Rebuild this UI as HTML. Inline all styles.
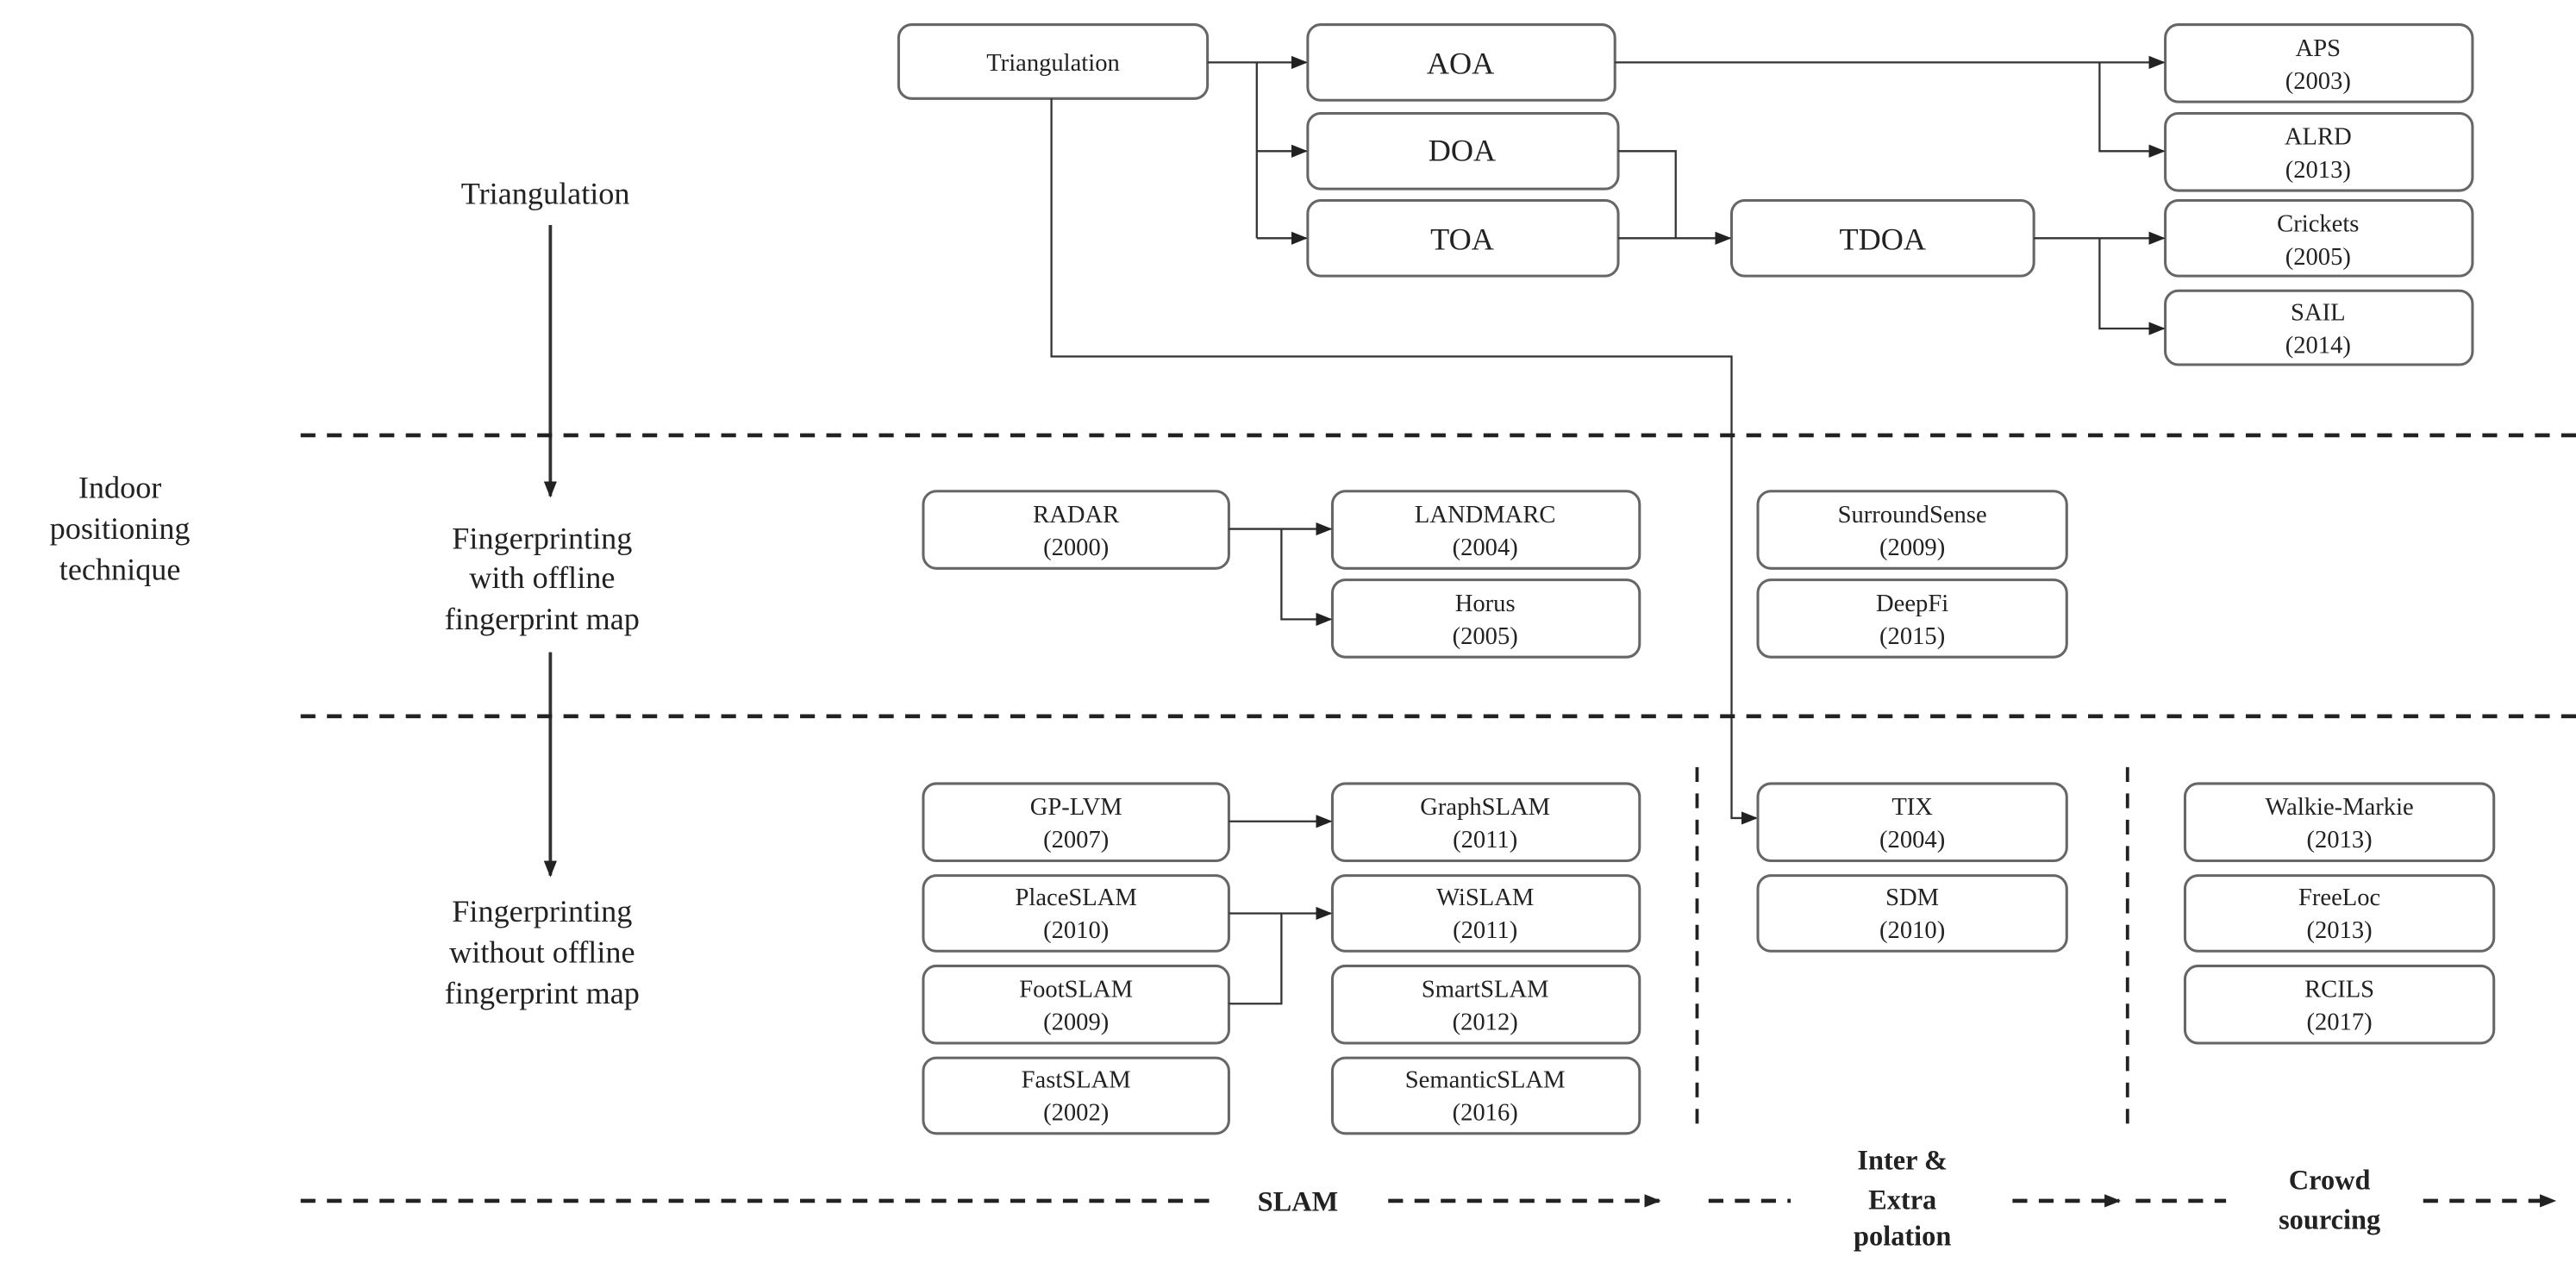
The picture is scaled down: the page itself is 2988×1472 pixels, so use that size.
<!DOCTYPE html>
<html><head><meta charset="utf-8"><style>
html,body{margin:0;padding:0;background:#fff;}
svg{display:block;}
text{font-family:"Liberation Serif",serif;fill:#222;}
.b{fill:#fff;stroke:#666;stroke-width:1.6;}
.t{font-size:15px;text-anchor:middle;}
.l{font-size:19px;text-anchor:middle;}
.k{font-size:17px;font-weight:bold;text-anchor:middle;}
.c{fill:none;stroke:#333;stroke-width:1.2;}
.d{fill:none;stroke:#222;stroke-width:2.4;stroke-dasharray:9,7;}
</style></head><body>
<svg width="2988" height="1472" viewBox="0 0 1568 772.5" preserveAspectRatio="none" xmlns="http://www.w3.org/2000/svg">
<defs><marker id="a" markerWidth="10" markerHeight="10" refX="9" refY="5" orient="auto" markerUnits="userSpaceOnUse"><path d="M0,1 L10,5 L0,9 Z" fill="#222"/></marker></defs>
<!-- top boxes -->
<rect class="b" x="547" y="15" width="188" height="45" rx="8"/><text class="t" x="641" y="43">Triangulation</text>
<rect class="b" x="796" y="15" width="187" height="46" rx="8"/><text class="l" x="889" y="45">AOA</text>
<rect class="b" x="796" y="69" width="189" height="46" rx="8"/><text class="l" x="890" y="98">DOA</text>
<rect class="b" x="796" y="122" width="189" height="46" rx="8"/><text class="l" x="890" y="152">TOA</text>
<rect class="b" x="1054" y="122" width="184" height="46" rx="8"/><text class="l" x="1146" y="152">TDOA</text>
<rect class="b" x="1318" y="15" width="187" height="47" rx="8"/><text class="t" x="1411" y="34">APS</text><text class="t" x="1411" y="54">(2003)</text>
<rect class="b" x="1318" y="69" width="187" height="47" rx="8"/><text class="t" x="1411" y="88">ALRD</text><text class="t" x="1411" y="108">(2013)</text>
<rect class="b" x="1318" y="122" width="187" height="46" rx="8"/><text class="t" x="1411" y="141">Crickets</text><text class="t" x="1411" y="161">(2005)</text>
<rect class="b" x="1318" y="177" width="187" height="45" rx="8"/><text class="t" x="1411" y="195">SAIL</text><text class="t" x="1411" y="215">(2014)</text>
<!-- top connectors -->
<path class="c" d="M735,38 H795" marker-end="url(#a)"/>
<path class="c" d="M765,38 V145"/>
<path class="c" d="M765,92 H795" marker-end="url(#a)"/>
<path class="c" d="M765,145 H795" marker-end="url(#a)"/>
<path class="c" d="M983,38 H1317" marker-end="url(#a)"/>
<path class="c" d="M1278,38 V92 H1317" marker-end="url(#a)"/>
<path class="c" d="M985,92 H1020 V145"/>
<path class="c" d="M985,145 H1053" marker-end="url(#a)"/>
<path class="c" d="M1238,145 H1317" marker-end="url(#a)"/>
<path class="c" d="M1278,145 V200 H1317" marker-end="url(#a)"/>
<path class="c" d="M640,60 V217 H1054 V498 H1069" marker-end="url(#a)"/>
<!-- left labels -->
<text class="l" x="332" y="124">Triangulation</text>
<path class="c" style="stroke-width:2" d="M335,137 V302" marker-end="url(#a)"/>
<text class="l" x="73" y="303">Indoor</text><text class="l" x="73" y="328">positioning</text><text class="l" x="73" y="353">technique</text>
<text class="l" x="330" y="334">Fingerprinting</text><text class="l" x="330" y="358">with offline</text><text class="l" x="330" y="383">fingerprint map</text>
<path class="c" style="stroke-width:2" d="M335,397 V533" marker-end="url(#a)"/>
<text class="l" x="330" y="561">Fingerprinting</text><text class="l" x="330" y="586">without offline</text><text class="l" x="330" y="611">fingerprint map</text>
<!-- dashed separators -->
<path class="d" d="M183,265 H1568"/>
<path class="d" d="M183,436 H1568"/>
<path class="d" style="stroke-width:2" d="M1033,467 V690"/>
<path class="d" style="stroke-width:2" d="M1295,467 V690"/>
<!-- fingerprint with map -->
<rect class="b" x="562" y="299" width="186" height="47" rx="8"/><text class="t" x="655" y="318">RADAR</text><text class="t" x="655" y="338">(2000)</text>
<rect class="b" x="811" y="299" width="187" height="47" rx="8"/><text class="t" x="904" y="318">LANDMARC</text><text class="t" x="904" y="338">(2004)</text>
<rect class="b" x="811" y="353" width="187" height="47" rx="8"/><text class="t" x="904" y="372">Horus</text><text class="t" x="904" y="392">(2005)</text>
<path class="c" d="M748,322 H810" marker-end="url(#a)"/>
<path class="c" d="M780,322 V377 H810" marker-end="url(#a)"/>
<rect class="b" x="1070" y="299" width="188" height="47" rx="8"/><text class="t" x="1164" y="318">SurroundSense</text><text class="t" x="1164" y="338">(2009)</text>
<rect class="b" x="1070" y="353" width="188" height="47" rx="8"/><text class="t" x="1164" y="372">DeepFi</text><text class="t" x="1164" y="392">(2015)</text>
<!-- SLAM -->
<rect class="b" x="562" y="477" width="186" height="47" rx="8"/><text class="t" x="655" y="496">GP-LVM</text><text class="t" x="655" y="516">(2007)</text>
<rect class="b" x="562" y="533" width="186" height="46" rx="8"/><text class="t" x="655" y="551">PlaceSLAM</text><text class="t" x="655" y="571">(2010)</text>
<rect class="b" x="562" y="588" width="186" height="47" rx="8"/><text class="t" x="655" y="607">FootSLAM</text><text class="t" x="655" y="627">(2009)</text>
<rect class="b" x="562" y="644" width="186" height="46" rx="8"/><text class="t" x="655" y="662">FastSLAM</text><text class="t" x="655" y="682">(2002)</text>
<rect class="b" x="811" y="477" width="187" height="47" rx="8"/><text class="t" x="904" y="496">GraphSLAM</text><text class="t" x="904" y="516">(2011)</text>
<rect class="b" x="811" y="533" width="187" height="46" rx="8"/><text class="t" x="904" y="551">WiSLAM</text><text class="t" x="904" y="571">(2011)</text>
<rect class="b" x="811" y="588" width="187" height="47" rx="8"/><text class="t" x="904" y="607">SmartSLAM</text><text class="t" x="904" y="627">(2012)</text>
<rect class="b" x="811" y="644" width="187" height="46" rx="8"/><text class="t" x="904" y="662">SemanticSLAM</text><text class="t" x="904" y="682">(2016)</text>
<path class="c" d="M748,500 H810" marker-end="url(#a)"/>
<path class="c" d="M748,556 H810" marker-end="url(#a)"/>
<path class="c" d="M748,611 H780 V556"/>
<!-- inter/extra -->
<rect class="b" x="1070" y="477" width="188" height="47" rx="8"/><text class="t" x="1164" y="496">TIX</text><text class="t" x="1164" y="516">(2004)</text>
<rect class="b" x="1070" y="533" width="188" height="46" rx="8"/><text class="t" x="1164" y="551">SDM</text><text class="t" x="1164" y="571">(2010)</text>
<!-- crowd -->
<rect class="b" x="1330" y="477" width="188" height="47" rx="8"/><text class="t" x="1424" y="496">Walkie-Markie</text><text class="t" x="1424" y="516">(2013)</text>
<rect class="b" x="1330" y="533" width="188" height="46" rx="8"/><text class="t" x="1424" y="551">FreeLoc</text><text class="t" x="1424" y="571">(2013)</text>
<rect class="b" x="1330" y="588" width="188" height="47" rx="8"/><text class="t" x="1424" y="607">RCILS</text><text class="t" x="1424" y="627">(2017)</text>
<!-- bottom axis -->
<path class="d" d="M183,731 H740"/>
<text class="k" x="790" y="737">SLAM</text>
<path class="d" d="M845,731 H1010" marker-end="url(#a)"/>
<path class="d" d="M1040,731 H1090"/>
<text class="k" x="1158" y="712">Inter &amp;</text><text class="k" x="1158" y="736">Extra</text><text class="k" x="1158" y="758">polation</text>
<path class="d" d="M1225,731 H1290" marker-end="url(#a)"/>
<path class="d" d="M1300,731 H1355"/>
<text class="k" x="1418" y="724">Crowd</text><text class="k" x="1418" y="748">sourcing</text>
<path class="d" d="M1475,731 H1555" marker-end="url(#a)"/>
</svg>
</body></html>
